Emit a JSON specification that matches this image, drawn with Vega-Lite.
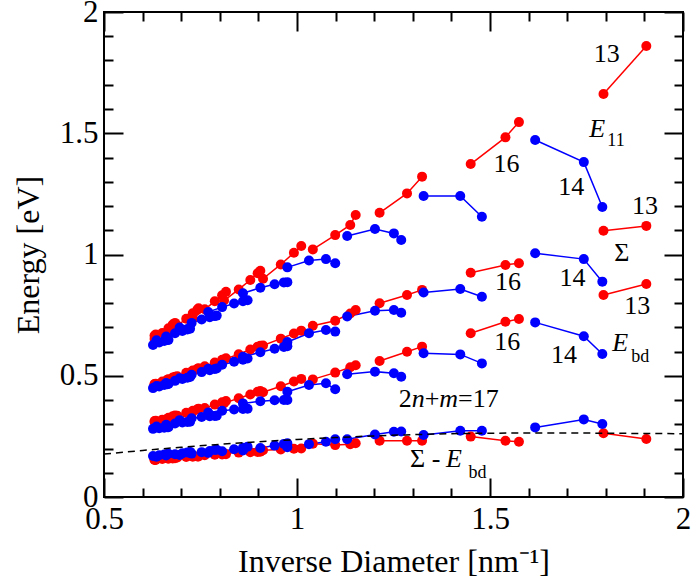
{
"$schema": "https://vega.github.io/schema/vega-lite/v6.json",
"width": 579, "height": 485,
"autosize": {"type": "none"},
"padding": {"left": 104, "top": 12, "right": 11, "bottom": 91},
"background": "white",
"config": {
 "view": {"stroke": "black", "strokeWidth": 2},
 "axis": {"grid": false, "domain": false, "tickColor": "black", "tickWidth": 2, "labelFont": "Liberation Serif", "labelFontSize": 31, "labelColor": "black", "labelFlush": false, "labelOverlap": false, "labelBound": false, "titleFont": "Liberation Serif", "titleFontSize": 32, "titleFontWeight": "normal", "titleColor": "black"}
},
"datasets": {
 "tubes": [
  {"p":13,"c":"r","x":1.794,"E":1.662,"S":1.098,"B":0.833,"D":0.263},
  {"p":13,"c":"r","x":1.905,"E":1.860,"S":1.118,"B":0.878,"D":0.239},
  {"p":16,"c":"r","x":1.450,"E":1.373,"S":0.925,"B":0.675,"D":0.249},
  {"p":16,"c":"r","x":1.540,"E":1.483,"S":0.957,"B":0.723,"D":0.232},
  {"p":16,"c":"r","x":1.575,"E":1.546,"S":0.964,"B":0.734,"D":0.228},
  {"p":19,"c":"r","x":1.214,"E":1.172,"S":0.799,"B":0.561,"D":0.232},
  {"p":19,"c":"r","x":1.285,"E":1.252,"S":0.833,"B":0.599,"D":0.232},
  {"p":19,"c":"r","x":1.324,"E":1.321,"S":0.854,"B":0.620,"D":0.232},
  {"p":22,"c":"r","x":1.041,"E":1.021,"S":0.706,"B":0.485,"D":0.220},
  {"p":22,"c":"r","x":1.099,"E":1.080,"S":0.727,"B":0.513,"D":0.214},
  {"p":22,"c":"r","x":1.138,"E":1.122,"S":0.757,"B":0.535,"D":0.218},
  {"p":22,"c":"r","x":1.152,"E":1.163,"S":0.771,"B":0.543,"D":0.222},
  {"p":25,"c":"r","x":0.912,"E":0.900,"S":0.625,"B":0.432,"D":0.193},
  {"p":25,"c":"r","x":0.958,"E":0.959,"S":0.653,"B":0.457,"D":0.196},
  {"p":25,"c":"r","x":0.992,"E":1.007,"S":0.674,"B":0.476,"D":0.199},
  {"p":25,"c":"r","x":1.011,"E":1.035,"S":0.686,"B":0.487,"D":0.200},
  {"p":28,"c":"r","x":0.811,"E":0.810,"S":0.567,"B":0.387,"D":0.180},
  {"p":28,"c":"r","x":0.849,"E":0.856,"S":0.589,"B":0.407,"D":0.183},
  {"p":28,"c":"r","x":0.879,"E":0.895,"S":0.608,"B":0.423,"D":0.185},
  {"p":28,"c":"r","x":0.898,"E":0.923,"S":0.620,"B":0.434,"D":0.186},
  {"p":28,"c":"r","x":0.905,"E":0.933,"S":0.624,"B":0.437,"D":0.187},
  {"p":31,"c":"r","x":0.730,"E":0.737,"S":0.520,"B":0.352,"D":0.169},
  {"p":31,"c":"r","x":0.761,"E":0.774,"S":0.539,"B":0.367,"D":0.172},
  {"p":31,"c":"r","x":0.787,"E":0.807,"S":0.555,"B":0.381,"D":0.174},
  {"p":31,"c":"r","x":0.806,"E":0.832,"S":0.566,"B":0.391,"D":0.175},
  {"p":31,"c":"r","x":0.816,"E":0.846,"S":0.572,"B":0.396,"D":0.176},
  {"p":34,"c":"r","x":0.664,"E":0.677,"S":0.483,"B":0.323,"D":0.160},
  {"p":34,"c":"r","x":0.690,"E":0.707,"S":0.498,"B":0.335,"D":0.163},
  {"p":34,"c":"r","x":0.713,"E":0.735,"S":0.512,"B":0.347,"D":0.165},
  {"p":34,"c":"r","x":0.730,"E":0.758,"S":0.522,"B":0.356,"D":0.166},
  {"p":34,"c":"r","x":0.742,"E":0.773,"S":0.529,"B":0.362,"D":0.167},
  {"p":34,"c":"r","x":0.745,"E":0.778,"S":0.531,"B":0.364,"D":0.167},
  {"p":37,"c":"r","x":0.631,"E":0.652,"S":0.464,"B":0.309,"D":0.155},
  {"p":37,"c":"r","x":0.651,"E":0.676,"S":0.476,"B":0.319,"D":0.157},
  {"p":37,"c":"r","x":0.667,"E":0.696,"S":0.486,"B":0.327,"D":0.158},
  {"p":37,"c":"r","x":0.678,"E":0.711,"S":0.493,"B":0.333,"D":0.159},
  {"p":37,"c":"r","x":0.684,"E":0.718,"S":0.496,"B":0.336,"D":0.160},
  {"p":40,"c":"r","x":0.631,"E":0.666,"S":0.466,"B":0.313,"D":0.153},
  {"p":40,"c":"r","x":0.634,"E":0.670,"S":0.467,"B":0.314,"D":0.153},
  {"p":14,"c":"b","x":1.617,"E":1.472,"S":1.005,"B":0.720,"D":0.287},
  {"p":14,"c":"b","x":1.743,"E":1.381,"S":0.981,"B":0.663,"D":0.320},
  {"p":14,"c":"b","x":1.791,"E":1.196,"S":0.888,"B":0.590,"D":0.301},
  {"p":17,"c":"b","x":1.328,"E":1.241,"S":0.843,"B":0.593,"D":0.256},
  {"p":17,"c":"b","x":1.423,"E":1.241,"S":0.858,"B":0.588,"D":0.273},
  {"p":17,"c":"b","x":1.479,"E":1.156,"S":0.826,"B":0.551,"D":0.273},
  {"p":20,"c":"b","x":1.130,"E":1.076,"S":0.744,"B":0.506,"D":0.238},
  {"p":20,"c":"b","x":1.202,"E":1.105,"S":0.768,"B":0.517,"D":0.258},
  {"p":20,"c":"b","x":1.251,"E":1.087,"S":0.771,"B":0.510,"D":0.269},
  {"p":20,"c":"b","x":1.270,"E":1.060,"S":0.760,"B":0.496,"D":0.270},
  {"p":23,"c":"b","x":0.975,"E":0.947,"S":0.639,"B":0.434,"D":0.205},
  {"p":23,"c":"b","x":1.031,"E":0.975,"S":0.675,"B":0.462,"D":0.218},
  {"p":23,"c":"b","x":1.075,"E":0.981,"S":0.689,"B":0.469,"D":0.228},
  {"p":23,"c":"b","x":1.099,"E":0.964,"S":0.682,"B":0.444,"D":0.238},
  {"p":26,"c":"b","x":0.860,"E":0.840,"S":0.578,"B":0.386,"D":0.192},
  {"p":26,"c":"b","x":0.905,"E":0.863,"S":0.597,"B":0.395,"D":0.202},
  {"p":26,"c":"b","x":0.942,"E":0.877,"S":0.611,"B":0.399,"D":0.212},
  {"p":26,"c":"b","x":0.966,"E":0.885,"S":0.619,"B":0.400,"D":0.219},
  {"p":26,"c":"b","x":0.975,"E":0.886,"S":0.622,"B":0.400,"D":0.222},
  {"p":29,"c":"b","x":0.770,"E":0.763,"S":0.529,"B":0.348,"D":0.182},
  {"p":29,"c":"b","x":0.806,"E":0.783,"S":0.545,"B":0.356,"D":0.189},
  {"p":29,"c":"b","x":0.837,"E":0.798,"S":0.558,"B":0.361,"D":0.197},
  {"p":29,"c":"b","x":0.860,"E":0.807,"S":0.566,"B":0.363,"D":0.203},
  {"p":29,"c":"b","x":0.872,"E":0.811,"S":0.571,"B":0.364,"D":0.207},
  {"p":32,"c":"b","x":0.696,"E":0.699,"S":0.490,"B":0.317,"D":0.173},
  {"p":32,"c":"b","x":0.727,"E":0.718,"S":0.504,"B":0.325,"D":0.179},
  {"p":32,"c":"b","x":0.753,"E":0.732,"S":0.515,"B":0.330,"D":0.185},
  {"p":32,"c":"b","x":0.774,"E":0.741,"S":0.523,"B":0.333,"D":0.190},
  {"p":32,"c":"b","x":0.787,"E":0.746,"S":0.528,"B":0.334,"D":0.194},
  {"p":32,"c":"b","x":0.792,"E":0.748,"S":0.530,"B":0.335,"D":0.195},
  {"p":35,"c":"b","x":0.636,"E":0.646,"S":0.458,"B":0.291,"D":0.166},
  {"p":35,"c":"b","x":0.661,"E":0.662,"S":0.470,"B":0.298,"D":0.171},
  {"p":35,"c":"b","x":0.684,"E":0.675,"S":0.479,"B":0.303,"D":0.176},
  {"p":35,"c":"b","x":0.703,"E":0.685,"S":0.487,"B":0.307,"D":0.180},
  {"p":35,"c":"b","x":0.716,"E":0.691,"S":0.492,"B":0.309,"D":0.184},
  {"p":35,"c":"b","x":0.723,"E":0.694,"S":0.495,"B":0.310,"D":0.186},
  {"p":38,"c":"b","x":0.627,"E":0.627,"S":0.449,"B":0.281,"D":0.169},
  {"p":38,"c":"b","x":0.643,"E":0.637,"S":0.456,"B":0.284,"D":0.172},
  {"p":38,"c":"b","x":0.656,"E":0.643,"S":0.462,"B":0.286,"D":0.175},
  {"p":38,"c":"b","x":0.664,"E":0.647,"S":0.465,"B":0.288,"D":0.177},
  {"p":38,"c":"b","x":0.667,"E":0.648,"S":0.466,"B":0.288,"D":0.178}
 ],
 "fit": [
  {"x":0.5,"y":0.177},{"x":0.6,"y":0.192},{"x":0.7,"y":0.205},{"x":0.8,"y":0.217},
  {"x":0.9,"y":0.228},{"x":1.0,"y":0.237},{"x":1.1,"y":0.245},{"x":1.2,"y":0.252},
  {"x":1.3,"y":0.257},{"x":1.4,"y":0.261},{"x":1.5,"y":0.263},{"x":1.6,"y":0.264},
  {"x":1.7,"y":0.264},{"x":1.8,"y":0.263},{"x":1.9,"y":0.262},{"x":2.0,"y":0.261}
 ],
 "txt": [
  {"x":1.769,"y":1.795,"t":"13"},
  {"x":1.509,"y":1.339,"t":"16"},
  {"x":1.677,"y":1.245,"t":"14"},
  {"x":1.868,"y":1.167,"t":"13"},
  {"x":1.822,"y":0.975,"t":"Σ"},
  {"x":1.680,"y":0.871,"t":"14"},
  {"x":1.513,"y":0.854,"t":"16"},
  {"x":1.848,"y":0.755,"t":"13"},
  {"x":1.511,"y":0.606,"t":"16"},
  {"x":1.658,"y":0.554,"t":"14"},
  {"x":1.2636,"y":0.372,"t":"2"},
  {"x":1.3307,"y":0.372,"t":"+"},
  {"x":1.4173,"y":0.372,"t":"=17"},
  {"x":1.293,"y":0.125,"t":"Σ -"}
 ],
 "ital": [
  {"x":1.757,"y":1.486,"t":"E"},
  {"x":1.8166,"y":0.603,"t":"E"},
  {"x":1.386,"y":0.125,"t":"E"},
  {"x":1.2972,"y":0.372,"t":"n"},
  {"x":1.3687,"y":0.372,"t":"m"}
 ],
 "subs": [
  {"x":1.804,"y":1.447,"t":"11"},
  {"x":1.866,"y":0.558,"t":"bd"},
  {"x":1.444,"y":0.078,"t":"bd"}
 ]
},
"layer": [
 {
  "data": {"name": "tubes"},
  "transform": [{"fold": ["E","S","B","D"], "as": ["q","y"]}],
  "mark": {"type": "line", "strokeWidth": 1.5},
  "encoding": {
   "x": {"field": "x", "type": "quantitative", "scale": {"domain": [0.5, 2], "nice": false, "zero": false},
         "axis": {"orient": "bottom", "values": [0.5, 1, 1.5, 2], "format": "~g", "tickSize": -19, "labelPadding": 26, "title": "Inverse Diameter [nm⁻¹]", "titlePadding": 12}},
   "y": {"field": "y", "type": "quantitative", "scale": {"domain": [0, 2], "nice": false, "zero": false},
         "axis": {"orient": "left", "values": [0, 0.5, 1, 1.5, 2], "format": "~g", "tickSize": -19, "labelPadding": 25, "title": "Energy [eV]", "titlePadding": 14}},
   "color": {"field": "c", "type": "nominal", "scale": {"domain": ["r","b"], "range": ["#ff0000","#0000ff"]}, "legend": null},
   "detail": [{"field": "p", "type": "nominal"}, {"field": "q", "type": "nominal"}]
  }
 },
 {
  "data": {"name": "tubes"},
  "transform": [{"fold": ["E","S","B","D"], "as": ["q","y"]}],
  "mark": {"type": "circle", "size": 100, "opacity": 1},
  "encoding": {
   "x": {"field": "x", "type": "quantitative", "scale": {"domain": [0.5, 2], "nice": false, "zero": false},
         "axis": {"orient": "bottom", "values": [0.6,0.7,0.8,0.9,1.1,1.2,1.3,1.4,1.6,1.7,1.8,1.9], "tickSize": -9, "labels": false, "title": null}},
   "y": {"field": "y", "type": "quantitative", "scale": {"domain": [0, 2], "nice": false, "zero": false},
         "axis": {"orient": "left", "values": [0.1,0.2,0.3,0.4,0.6,0.7,0.8,0.9,1.1,1.2,1.3,1.4,1.6,1.7,1.8,1.9], "tickSize": -9, "labels": false, "title": null}},
   "color": {"field": "c", "type": "nominal", "scale": {"domain": ["r","b"], "range": ["#ff0000","#0000ff"]}, "legend": null}
  }
 },
 {
  "data": {"name": "fit"},
  "mark": {"type": "line", "color": "black", "strokeWidth": 1.5, "strokeDash": [7, 5], "interpolate": "monotone"},
  "encoding": {
   "x": {"field": "x", "type": "quantitative", "scale": {"domain": [0.5, 2], "nice": false, "zero": false},
         "axis": {"orient": "top", "values": [0.5, 1, 1.5, 2], "tickSize": -19, "labels": false, "title": null}},
   "y": {"field": "y", "type": "quantitative", "scale": {"domain": [0, 2], "nice": false, "zero": false},
         "axis": {"orient": "right", "values": [0, 0.5, 1, 1.5, 2], "tickSize": -19, "labels": false, "title": null}}
  }
 },
 {
  "data": {"name": "txt"},
  "mark": {"type": "text", "font": "Liberation Serif", "fontSize": 26, "color": "black", "align": "left", "baseline": "alphabetic"},
  "encoding": {
   "x": {"field": "x", "type": "quantitative", "scale": {"domain": [0.5, 2], "nice": false, "zero": false},
         "axis": {"orient": "top", "values": [0.6,0.7,0.8,0.9,1.1,1.2,1.3,1.4,1.6,1.7,1.8,1.9], "tickSize": -9, "labels": false, "title": null}},
   "y": {"field": "y", "type": "quantitative", "scale": {"domain": [0, 2], "nice": false, "zero": false},
         "axis": {"orient": "right", "values": [0.1,0.2,0.3,0.4,0.6,0.7,0.8,0.9,1.1,1.2,1.3,1.4,1.6,1.7,1.8,1.9], "tickSize": -9, "labels": false, "title": null}},
   "text": {"field": "t", "type": "nominal"}
  }
 },
 {
  "data": {"name": "ital"},
  "mark": {"type": "text", "font": "Liberation Serif", "fontSize": 26, "fontStyle": "italic", "color": "black", "align": "left", "baseline": "alphabetic"},
  "encoding": {
   "x": {"field": "x", "type": "quantitative", "scale": {"domain": [0.5, 2], "nice": false, "zero": false}, "axis": null},
   "y": {"field": "y", "type": "quantitative", "scale": {"domain": [0, 2], "nice": false, "zero": false}, "axis": null},
   "text": {"field": "t", "type": "nominal"}
  }
 },
 {
  "data": {"name": "subs"},
  "mark": {"type": "text", "font": "Liberation Serif", "fontSize": 18, "color": "black", "align": "left", "baseline": "alphabetic"},
  "encoding": {
   "x": {"field": "x", "type": "quantitative", "scale": {"domain": [0.5, 2], "nice": false, "zero": false}, "axis": null},
   "y": {"field": "y", "type": "quantitative", "scale": {"domain": [0, 2], "nice": false, "zero": false}, "axis": null},
   "text": {"field": "t", "type": "nominal"}
  }
 }
],
"resolve": {"axis": {"x": "independent", "y": "independent"}}
}
